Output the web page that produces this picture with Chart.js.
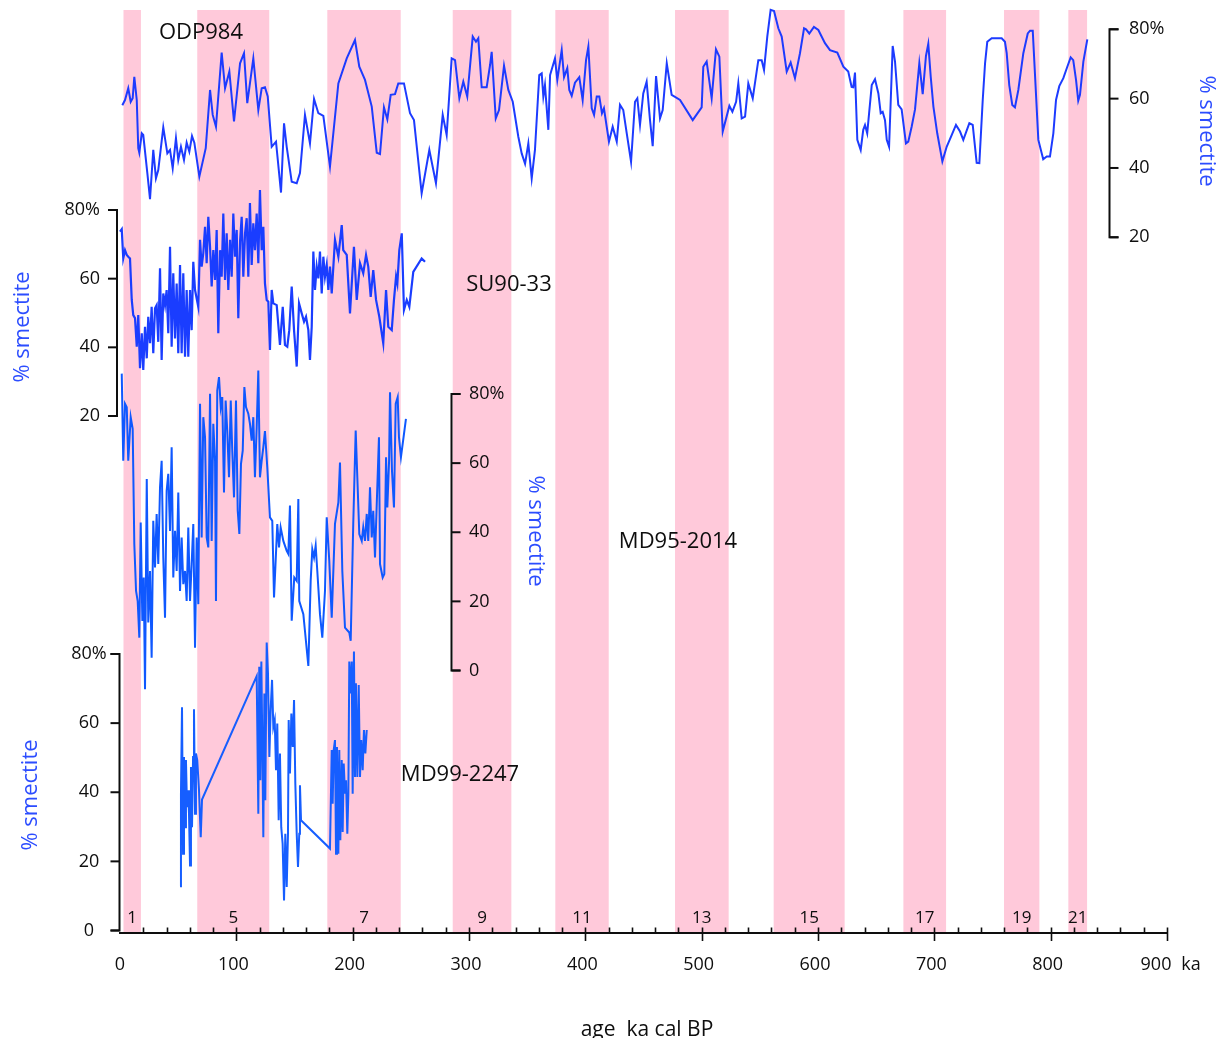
<!DOCTYPE html>
<html>
<head>
<meta charset="utf-8">
<title>Smectite records</title>
<script src="https://cdn.jsdelivr.net/npm/chart.js@4/dist/chart.umd.min.js"></script>
<style>
  html, body { margin: 0; padding: 0; background: #ffffff; }
  #wrap { width: 1224px; height: 1038px; }
</style>
</head>
<body>
<div id="wrap"><canvas id="chart" width="1224" height="1038"></canvas></div>
<script>
// ---- Marine isotope stage bands (ka) ----
const bandStart = [3, 66.4, 178.2, 286, 374.2, 477.1, 561.9, 673.4, 759.9, 815.2];
const bandEnd   = [18, 128.3, 241.3, 336.4, 420.1, 523.2, 622.9, 710.1, 790.3, 831.3];
const bandLabel = ['1', '5', '7', '9', '11', '13', '15', '17', '19', '21'];

// ---- ODP984 (% smectite vs age, ka) ----
const odpAge = [
  2.0,4.3,7.1,9.2,10.9,12.3,14.4,15.7,16.6,18.7,
  20.0,23.5,25.8,28.6,30.9,32.9,37.2,40.7,43.0,45.3,
  48.1,50.1,52.4,55.0,57.3,59.6,61.9,63.9,68.2,73.7,
  77.4,79.7,82.5,87.4,90.3,94.0,98.0,103.2,106.6,109.4,
  114.6,118.9,121.8,124.6,127.0,130.4,134.1,138.4,141.0,143.3,
  147.6,151.9,154.7,159.0,163.3,166.8,170.5,174.8,180.5,187.7,
  194.9,202.0,205.7,210.6,216.4,220.7,223.5,226.9,229.8,232.7,
  236.4,239.2,244.1,249.3,252.7,259.3,265.9,271.6,277.4,280.8,
  285.1,288.0,291.7,295.1,298.5,303.2,306.0,308.0,310.9,315.2,
  318.1,319.5,323.0,325.8,330.1,333.8,337.6,342.4,345.3,348.2,
  351.0,353.9,356.7,360.4,362.5,363.9,365.3,368.2,369.7,373.9,
  375.9,379.7,381.7,384.5,386.2,388.3,391.1,394.8,397.7,400.6,
  402.6,405.5,407.5,409.8,412.0,414.3,416.0,420.3,423.5,427.0,
  429.8,432.6,435.6,439.3,442.7,444.7,447.0,449.8,452.7,455.6,
  457.9,460.8,464.2,466.5,470.0,474.2,481.4,492.3,500.0,501.4,
  504.3,508.6,512.3,515.2,518.1,523.8,526.4,529.6,531.5,534.4,
  537.3,540.1,543.9,548.7,551.6,553.6,556.4,559.3,562.2,565.9,
  568.8,573.1,576.5,580.2,584.5,588.0,589.7,592.5,596.5,600.3,
  606.0,610.3,616.6,621.8,626.0,628.9,630.3,631.8,633.8,636.7,
  638.9,640.4,642.3,646.2,649.0,651.9,653.9,655.6,657.6,659.1,
  661.1,664.2,666.2,669.0,671.9,675.6,677.6,680.5,683.4,687.1,
  690.0,692.8,694.8,696.9,699.2,702.5,706.9,710.6,714.9,718.6,
  722.1,724.9,730.1,733.0,736.4,738.7,741.6,743.6,745.5,749.3,
  757.9,760.7,762.2,764.4,767.0,769.3,772.2,776.5,780.3,782.3,
  784.6,789.4,793.6,796.6,799.4,802.3,804.6,807.4,810.9,814.3,
  817.2,819.4,821.8,823.7,825.2,828.1,831.5
];
const odpSmectite = [
  58.1,59.6,63.0,59.1,60.1,66.3,59.6,45.7,44.4,50.0,
  49.5,38.5,31.0,45.2,37.0,39.4,51.7,44.2,45.2,39.9,
  48.6,42.3,46.1,42.3,47.3,44.7,49.2,47.3,37.5,45.7,
  62.5,55.3,51.9,73.3,63.0,67.8,53.4,70.2,73.1,58.7,
  71.6,56.7,63.0,63.3,60.6,46.1,47.6,32.9,52.9,46.1,
  36.0,35.6,38.5,55.3,47.1,59.9,55.8,55.0,40.4,64.4,
  71.6,76.9,69.2,65.4,57.7,44.4,44.0,57.5,54.0,61.1,
  61.3,64.4,64.4,55.8,53.8,32.7,45.2,35.6,55.3,49.5,
  71.6,71.1,60.1,64.9,60.6,77.9,76.4,77.4,63.3,63.3,
  69.7,73.5,54.3,56.7,69.5,62.5,59.1,49.0,44.2,41.2,
  47.1,37.0,45.2,66.8,67.3,60.6,63.9,51.0,66.8,71.6,
  65.4,74.0,66.2,68.8,62.5,60.8,64.6,66.2,59.6,71.1,
  75.0,57.2,55.3,60.6,60.6,55.8,57.2,47.6,51.9,47.6,
  58.2,56.7,50.0,41.8,59.1,60.1,52.4,61.5,64.9,53.8,
  46.3,66.5,54.3,56.7,70.2,61.1,59.6,53.8,57.5,69.2,
  70.7,60.1,74.2,72.1,50.5,57.9,56.2,59.1,64.4,54.3,
  54.8,64.4,60.1,71.1,71.1,68.3,77.9,85.6,85.3,80.3,
  77.9,67.8,70.4,65.9,73.1,80.3,80.0,78.8,80.7,79.8,
  76.0,74.0,73.3,69.2,67.8,63.4,63.3,67.5,48.1,45.2,
  51.0,52.4,50.0,63.9,65.6,61.5,55.8,56.2,53.8,48.1,
  46.1,75.2,70.7,58.2,56.9,47.1,47.6,51.9,56.9,70.2,
  61.3,72.3,75.8,66.3,57.7,50.0,41.9,46.1,49.5,52.4,
  50.5,48.1,52.9,52.4,41.5,41.4,59.6,70.2,76.4,77.4,
  77.4,76.4,73.1,63.9,58.2,57.5,62.5,73.1,78.8,79.6,
  79.6,48.1,42.5,43.3,43.3,50.0,59.6,63.6,65.9,69.2,
  71.9,71.1,65.4,59.4,61.1,70.7,77.1
];

// ---- SU90-33 ----
const suAge = [
  0,1.5,2.8,4.3,5.8,7.1,8.6,10.1,11.4,12.9,
  14.4,15.7,17.2,18.7,20.0,21.5,23.0,24.3,25.8,27.2,
  28.6,30.1,31.5,32.9,34.4,35.8,37.2,38.7,40.1,41.5,
  43.0,44.4,45.8,47.3,48.7,50.1,51.6,53.0,54.4,55.9,
  57.3,58.7,60.2,61.6,63.0,64.5,67.3,68.8,70.2,71.6,
  73.1,74.5,75.9,77.4,78.8,80.2,81.7,83.1,84.5,86.0,
  87.4,88.8,90.3,91.7,93.1,94.6,96.0,97.4,98.9,100.3,
  101.7,103.2,104.6,106.0,107.5,108.9,110.3,111.7,113.2,114.6,
  116.0,117.5,118.9,120.3,121.8,123.2,124.6,126.1,127.5,128.9,
  130.4,131.8,134.7,137.5,139.9,141.8,143.8,145.5,147.6,149.6,
  151.9,153.9,156.2,158.2,159.9,161.9,163.3,164.8,166.2,167.6,
  169.1,170.5,171.9,173.4,174.8,176.2,177.7,179.1,180.5,182.0,
  184.8,187.7,190.6,191.9,194.9,197.7,201.1,203.5,206.3,209.1,
  211.5,213.4,215.5,217.7,220.1,222.9,226.3,228.7,230.6,233.6,
  235.5,237.3,238.4,240.1,242.2,244.1,246.5,248.7,252.1,259.3,
  262.2
];
const suSmectite = [
  73.7,74.4,65.9,68.3,66.9,66.4,65.9,53.8,49.4,48.5,
  40.2,49.4,33.9,44.1,33.4,46.0,36.8,48.9,41.2,51.8,
  38.3,51.4,52.3,41.6,63.0,36.3,55.7,52.3,56.7,44.1,
  69.3,40.2,61.6,42.6,58.6,38.3,64.0,38.3,61.6,37.3,
  56.7,37.3,56.7,45.0,64.9,56.7,51.8,71.3,63.5,67.4,
  75.1,64.5,78.0,69.3,57.7,68.3,59.6,74.2,44.1,68.3,
  60.6,79.0,59.6,73.2,56.7,71.3,60.6,79.0,66.4,74.2,
  48.5,70.8,78.0,60.6,73.2,77.6,60.6,82.0,64.0,76.1,
  68.3,79.0,64.5,85.8,68.3,75.1,58.6,53.8,53.3,39.2,
  56.7,52.8,52.3,40.7,51.8,40.7,40.2,45.0,57.7,45.0,
  34.4,52.8,49.9,47.5,48.9,45.0,36.3,46.0,67.9,56.7,
  63.5,60.1,67.9,55.7,66.4,60.6,64.0,56.7,63.5,55.7,
  71.3,66.4,75.6,68.3,66.9,49.9,69.3,53.8,64.5,61.6,
  66.9,63.5,54.7,62.5,53.8,48.9,41.2,56.7,46.0,45.0,
  53.8,60.6,58.6,68.3,73.2,50.9,53.8,51.8,62.0,65.9,
  64.9
];

// ---- MD95-2014 ----
const md95Age = [
  1.5,2.8,4.3,5.8,7.1,9.2,10.9,12.3,13.8,15.2,
  16.6,17.8,19.2,20.4,21.5,23.0,24.3,25.8,27.2,28.6,
  30.1,31.5,32.9,34.4,35.8,37.2,38.7,40.1,41.5,43.0,
  44.4,45.8,47.3,48.7,50.1,51.6,53.0,54.4,55.9,57.3,
  58.7,60.2,61.6,63.0,64.5,65.9,67.3,68.8,70.2,71.6,
  73.1,74.5,75.9,77.4,78.8,80.2,81.7,82.5,83.6,85.1,
  86.6,87.9,89.4,90.8,92.2,93.7,95.2,96.5,98.0,99.7,
  101.2,102.6,104.0,105.5,106.9,108.3,110.3,111.7,113.2,114.6,
  116.0,117.5,118.9,120.3,121.8,123.2,124.6,126.6,128.9,130.9,
  132.4,135.2,136.7,138.1,140.4,143.3,144.7,146.1,147.6,149.8,
  151.9,153.3,154.1,157.6,161.9,163.9,165.3,166.8,168.2,169.6,
  171.9,173.9,176.2,177.7,179.9,182.0,184.8,187.7,189.1,191.1,
  193.4,197.1,198.3,200.5,202.6,204.0,205.7,207.8,209.1,210.6,
  212.1,213.4,214.9,216.4,217.7,219.2,220.7,222.6,223.5,225.8,
  227.2,228.7,229.8,231.3,232.1,233.8,235.5,237.0,238.7,239.8,
  241.5,245.8
];
const md95Smectite = [
  85.9,60.7,77.2,76.2,60.7,73.3,69.9,36.6,23.0,20.1,
  9.5,42.8,14.3,26.9,-5.4,55.4,13.9,28.8,3.7,43.3,
  29.8,45.3,30.8,53.0,60.7,32.7,15.3,52.0,56.9,40.4,
  64.6,26.9,40.4,28.8,51.5,23.0,38.5,25.0,28.8,20.1,
  41.4,20.1,30.8,42.4,6.6,38.5,19.2,77.2,38.5,73.3,
  67.5,38.5,35.6,80.1,37.5,71.4,60.7,20.1,81.0,84.9,
  76.2,79.1,51.5,78.1,69.3,55.9,78.1,63.6,50.1,78.1,
  46.2,39.5,59.8,63.6,82.0,76.2,74.3,71.4,66.5,73.3,
  55.9,70.4,86.8,55.9,60.7,64.6,69.3,58.8,44.3,43.3,
  21.1,42.4,35.6,41.4,37.5,34.6,33.7,47.7,14.4,26.9,
  25.9,49.6,20.1,16.3,1.3,25.9,35.1,32.7,36.1,28.8,
  16.3,9.5,23.0,44.3,31.7,15.3,42.4,48.6,60.2,28.8,
  12.4,11.0,8.6,42.4,69.4,55.9,39.5,37.5,41.4,37.5,
  45.3,37.5,53.0,38.5,46.2,32.7,48.2,67.5,30.8,26.9,
  27.9,61.7,47.2,60.7,80.5,57.8,47.2,77.2,79.1,67.5,
  61.7,72.8
];

// ---- MD99-2247 ----
const md99Age = [
  51.6,52.4,53.3,54.2,55.0,55.9,56.7,57.6,58.5,59.3,
  60.2,61.0,61.9,62.8,63.6,64.5,65.3,66.4,67.9,69.4,
  70.5,117.5,118.9,119.7,120.6,121.5,122.3,123.2,124.1,124.9,
  126.1,127.2,128.4,129.6,130.7,131.8,133.0,134.1,135.2,136.4,
  137.5,138.6,139.8,141.0,142.1,143.3,144.4,145.0,146.1,147.3,
  148.5,149.6,150.7,151.9,153.0,154.1,154.7,155.6,180.5,182.0,
  182.8,183.7,184.8,185.7,186.5,187.7,188.5,189.4,190.6,191.4,
  192.3,193.4,194.3,195.4,196.3,197.1,198.0,199.2,200.0,201.1,
  202.0,202.8,204.0,205.2,206.3,207.4,208.6,209.7,210.9,212.1
];
const md99Smectite = [
  12.8,39.6,64.6,22.2,50.2,29.9,49.3,35.7,40.6,33.8,
  18.8,47.3,29.9,50.2,64.0,33.8,51.2,49.3,40.6,27.0,
  37.9,73.6,33.8,76.3,43.5,77.8,55.1,27.0,68.6,37.7,
  83.3,74.4,50.2,64.7,72.5,58.9,60.9,46.4,59.9,31.9,
  51.2,29.9,25.1,8.7,28.0,12.6,28.0,60.9,45.4,62.8,
  53.1,66.7,42.5,28.0,18.4,28.0,42.0,31.9,23.7,52.2,
  36.7,52.2,55.1,22.2,53.1,22.2,52.2,26.1,49.3,28.5,
  48.3,39.6,43.5,28.0,39.6,77.8,68.6,77.8,39.6,80.7,
  44.4,71.5,44.4,71.0,44.4,55.1,46.4,58.0,51.2,58.0
];

// ---- axis ticks ----
const ageTicks = [0, 100, 200, 300, 400, 500, 600, 700, 800, 900];
const odpTicks = [20, 40, 60, 80];
const suTicks = [20, 40, 60, 80];
const md95Ticks = [0, 20, 40, 60, 80];
const md99Ticks = [0, 20, 40, 60, 80];

// ---- layout ----
const FONT = '"Open Sans", "DejaVu Sans", sans-serif';
const PLOT_TOP = 0;
const PLOT_BOTTOM = 933;
const BAND_TOP = 10;
const INK = '#0e0e0e';
const PINK = '#ffc9da';
const LABEL_BLUE = '#2c4dff';

// Each record has its own vertical strip; the scale range is chosen so the
// strip's lo/hi values land on the pixel rows yLo/yHi of the full-height plot.
function fitRange(lo, hi, yLo, yHi) {
  const ppu = (yLo - yHi) / (hi - lo);
  return { min: lo - (PLOT_BOTTOM - yLo) / ppu, max: hi + (yHi - PLOT_TOP) / ppu };
}

const panels = [
  { id: 'yODP', name: 'ODP984', ticks: odpTicks, lo: 20, hi: 80, yLo: 237.3, yHi: 29.3,
    axisX: 1109.5, dir: 1, labelX: 1129, align: 'left',
    titleX: 1206, titleY: 131, rot: Math.PI / 2, nameX: 201, nameY: 33 },
  { id: 'ySU', name: 'SU90-33', ticks: suTicks, lo: 20, hi: 80, yLo: 416, yHi: 210,
    axisX: 117, dir: -1, labelX: 100, align: 'right',
    titleX: 23, titleY: 327, rot: -Math.PI / 2, nameX: 509, nameY: 285 },
  { id: 'yMD95', name: 'MD95-2014', ticks: md95Ticks, lo: 0, hi: 80, yLo: 670.5, yHi: 394,
    axisX: 451.5, dir: 1, labelX: 469, align: 'left',
    titleX: 535, titleY: 531, rot: Math.PI / 2, nameX: 678, nameY: 542 },
  { id: 'yMD99', name: 'MD99-2247', ticks: md99Ticks, lo: 0, hi: 80, yLo: 930.5, yHi: 654,
    axisX: 119.5, dir: -1, labelX: 89, align: 'center',
    titleX: 31, titleY: 795, rot: -Math.PI / 2, nameX: 460, nameY: 775 }
];

function toPoints(ages, vals) {
  return ages.map((a, i) => ({ x: a, y: vals[i] }));
}

const yScales = {};
panels.forEach(p => {
  const r = fitRange(p.lo, p.hi, p.yLo, p.yHi);
  yScales[p.id] = { type: 'linear', display: false, min: r.min, max: r.max, bounds: 'data' };
});

const decor = {
  id: 'decor',
  beforeDraw(chart) {
    const { ctx, chartArea, scales } = chart;
    const x = scales.x;
    ctx.save();
    ctx.fillStyle = PINK;
    bandStart.forEach((s, i) => {
      const a = x.getPixelForValue(s);
      const b = x.getPixelForValue(bandEnd[i]);
      ctx.fillRect(a, BAND_TOP, b - a, chartArea.bottom - BAND_TOP);
    });
    ctx.fillStyle = INK;
    ctx.font = '17px ' + FONT;
    ctx.textAlign = 'center';
    ctx.textBaseline = 'middle';
    bandLabel.forEach((t, i) => {
      ctx.fillText(t, x.getPixelForValue((bandStart[i] + bandEnd[i]) / 2), 918);
    });
    ctx.restore();
  },
  afterDraw(chart) {
    const { ctx, chartArea, scales } = chart;
    const x = scales.x;
    const base = chartArea.bottom;
    ctx.save();
    ctx.strokeStyle = INK;
    ctx.lineWidth = 1.6;
    // age axis tick marks: minor every 20 ka (inside), major every 100 ka (crossing)
    for (let v = 20; v <= 900; v += 20) {
      const px = Math.round(x.getPixelForValue(v)) + 0.5;
      const major = v % 100 === 0;
      ctx.beginPath();
      ctx.moveTo(px, base - 5.5);
      ctx.lineTo(px, base + (major ? 8 : 0));
      ctx.stroke();
    }
    // age labels; the last one is nudged left to leave room for the unit
    ctx.fillStyle = INK;
    ctx.font = '18px ' + FONT;
    ctx.textAlign = 'center';
    ctx.textBaseline = 'middle';
    ageTicks.forEach(v => {
      const shift = v === 0 ? 0 : (v === 900 ? -11 : -3);
      ctx.fillText(String(v), x.getPixelForValue(v) + shift, 965);
    });
    ctx.fillText('ka', 1191, 965);
    // per-record smectite axes
    ctx.lineWidth = 2;
    ctx.lineJoin = 'miter';
    panels.forEach(p => {
      const sc = scales[p.id];
      const top = sc.getPixelForValue(p.hi);
      const bot = sc.getPixelForValue(p.lo);
      const tl = 9 * p.dir;
      ctx.beginPath();
      ctx.moveTo(p.axisX + tl, top);
      ctx.lineTo(p.axisX, top);
      ctx.lineTo(p.axisX, bot);
      ctx.lineTo(p.axisX + tl, bot);
      ctx.stroke();
      p.ticks.forEach(t => {
        const py = sc.getPixelForValue(t);
        ctx.beginPath();
        ctx.moveTo(p.axisX, py);
        ctx.lineTo(p.axisX + tl, py);
        ctx.stroke();
      });
      ctx.fillStyle = INK;
      ctx.font = '18px ' + FONT;
      ctx.textAlign = p.align;
      ctx.textBaseline = 'middle';
      p.ticks.forEach(t => {
        const txt = t === p.hi ? t + '%' : String(t);
        ctx.fillText(txt, p.labelX, sc.getPixelForValue(t));
      });
      // rotated axis title
      ctx.save();
      ctx.translate(p.titleX, p.titleY);
      ctx.rotate(p.rot);
      ctx.fillStyle = LABEL_BLUE;
      ctx.font = '22px ' + FONT;
      ctx.textAlign = 'center';
      ctx.textBaseline = 'middle';
      ctx.fillText('% smectite', 0, 0);
      ctx.restore();
      // record name
      ctx.fillStyle = INK;
      ctx.font = '22px ' + FONT;
      ctx.textAlign = 'center';
      ctx.textBaseline = 'middle';
      ctx.fillText(p.name, p.nameX, p.nameY);
    });
    // axis title
    ctx.fillStyle = INK;
    ctx.font = '21px ' + FONT;
    ctx.textAlign = 'center';
    ctx.textBaseline = 'alphabetic';
    ctx.fillText('age  ka cal BP', 647, 1036);
    ctx.restore();
  }
};

const lineStyle = { borderWidth: 2, pointRadius: 0, tension: 0, fill: false };

new Chart(document.getElementById('chart'), {
  type: 'line',
  data: {
    datasets: [
      Object.assign({ label: 'ODP984', data: toPoints(odpAge, odpSmectite), borderColor: '#1d3bff', yAxisID: 'yODP' }, lineStyle),
      Object.assign({ label: 'SU90-33', data: toPoints(suAge, suSmectite), borderColor: '#1a3dff', yAxisID: 'ySU' }, lineStyle, { borderWidth: 2.2 }),
      Object.assign({ label: 'MD95-2014', data: toPoints(md95Age, md95Smectite), borderColor: '#0f58ff', yAxisID: 'yMD95' }, lineStyle),
      Object.assign({ label: 'MD99-2247', data: toPoints(md99Age, md99Smectite), borderColor: '#165eff', yAxisID: 'yMD99' }, lineStyle)
    ]
  },
  options: {
    responsive: false,
    animation: false,
    devicePixelRatio: 1,
    clip: false,
    layout: { padding: { left: 120, right: 57, top: PLOT_TOP, bottom: 0 } },
    plugins: { legend: { display: false }, tooltip: { enabled: false } },
    scales: Object.assign({
      x: {
        type: 'linear',
        min: 0,
        max: 900,
        position: 'bottom',
        afterFit(scale) { scale.height = 1038 - PLOT_BOTTOM; },
        afterBuildTicks(scale) { scale.ticks = ageTicks.map(v => ({ value: v })); },
        grid: { display: false, drawTicks: false },
        border: { display: true, color: INK, width: 2 },
        ticks: { display: false }
      }
    }, yScales)
  },
  plugins: [decor]
});
</script>
</body>
</html>
